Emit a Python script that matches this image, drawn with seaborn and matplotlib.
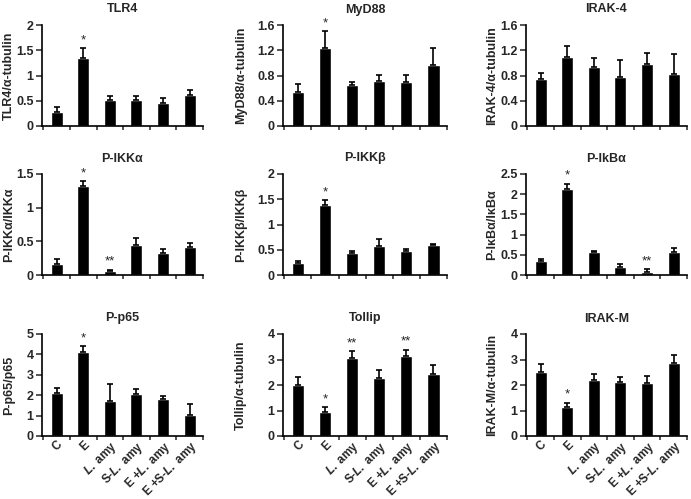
import numpy as np
import pandas as pd
import matplotlib
matplotlib.use("Agg")
import matplotlib.pyplot as plt
import seaborn as sns

# ─────────────────────────────────────────────
# Data
# ─────────────────────────────────────────────
groups = ["C", "E", "L. amy", "S-L. amy", "E +L. amy", "E +S-L. amy"]
group_labels = ["C", "E", r"$\mathit{L.}$ amy", r"S-$\mathit{L.}$ amy",
                r"E +$\mathit{L.}$ amy", r"E +S-$\mathit{L.}$ amy"]

tlr4_mean = [0.28, 1.34, 0.51, 0.52, 0.46, 0.62]
tlr4_err = [0.09, 0.20, 0.08, 0.08, 0.09, 0.09]
tlr4_star = ["", "*", "", "", "", ""]

myd88_mean = [0.54, 1.23, 0.65, 0.72, 0.70, 0.97]
myd88_err = [0.12, 0.27, 0.05, 0.09, 0.11, 0.27]
myd88_star = ["", "*", "", "", "", ""]

irak4_mean = [0.75, 1.09, 0.94, 0.78, 0.98, 0.83]
irak4_err = [0.09, 0.18, 0.14, 0.26, 0.17, 0.31]
irak4_star = ["", "", "", "", "", ""]

pikka_mean = [0.17, 1.32, 0.06, 0.44, 0.32, 0.42]
pikka_err = [0.07, 0.07, 0.02, 0.11, 0.07, 0.05]
pikka_star = ["", "*", "**", "", "", ""]

pikkb_mean = [0.24, 1.38, 0.43, 0.58, 0.48, 0.59]
pikkb_err = [0.03, 0.10, 0.05, 0.13, 0.03, 0.03]
pikkb_star = ["", "*", "", "", "", ""]

pikba_mean = [0.34, 2.14, 0.56, 0.21, 0.08, 0.57]
pikba_err = [0.06, 0.12, 0.04, 0.06, 0.06, 0.09]
pikba_star = ["", "*", "", "", "**", ""]

pp65_mean = [2.13, 4.13, 1.70, 2.05, 1.82, 1.02]
pp65_err = [0.22, 0.26, 0.86, 0.27, 0.16, 0.57]
pp65_star = ["", "*", "", "", "", ""]

tollip_mean = [2.00, 0.96, 3.06, 2.29, 3.13, 2.44]
tollip_err = [0.32, 0.17, 0.27, 0.31, 0.26, 0.33]
tollip_star = ["", "*", "**", "", "**", ""]

irakm_mean = [2.50, 1.15, 2.19, 2.10, 2.08, 2.85]
irakm_err = [0.32, 0.15, 0.26, 0.23, 0.28, 0.32]
irakm_star = ["", "*", "", "", "", ""]

titles = ["TLR4", "MyD88", "IRAK-4",
          "P-IKKα", "P-IKKβ", "P-IkBα",
          "P-p65", "Tollip", "IRAK-M"]
ylabels = ["TLR4/α-tubulin", "MyD88/α-tubulin", "IRAK-4/α-tubulin",
           "P-IKKα/IKKα", "P-IKKβ/IKKβ", "P-IκBα/IκBα",
           "P-p65/p65", "Tollip/α-tubulin", "IRAK-M/α-tubulin"]
means = [tlr4_mean, myd88_mean, irak4_mean, pikka_mean, pikkb_mean,
         pikba_mean, pp65_mean, tollip_mean, irakm_mean]
errs = [tlr4_err, myd88_err, irak4_err, pikka_err, pikkb_err,
        pikba_err, pp65_err, tollip_err, irakm_err]
stars = [tlr4_star, myd88_star, irak4_star, pikka_star, pikkb_star,
         pikba_star, pp65_star, tollip_star, irakm_star]
ymaxes = [2, 1.6, 1.6, 1.5, 2, 2.5, 5, 4, 4]
ysteps = [0.5, 0.4, 0.4, 0.5, 0.5, 0.5, 1, 1, 1]

# ─────────────────────────────────────────────
# Style
# ─────────────────────────────────────────────
sns.set_style("ticks")
plt.rcParams['font.family'] = ['Liberation Sans', 'DejaVu Sans']
plt.rcParams['font.weight'] = 'bold'
plt.rcParams['axes.labelweight'] = 'bold'
plt.rcParams['axes.titleweight'] = 'bold'
plt.rcParams['mathtext.fontset'] = 'custom'
plt.rcParams['mathtext.it'] = 'Liberation Sans:italic:bold'
plt.rcParams['mathtext.rm'] = 'Liberation Sans:bold'

W, H = 691, 499
fig = plt.figure(figsize=(W / 100, H / 100), dpi=100)

# panel boxes in pixels
col_left = [42, 283, 526]
col_width = [161, 164, 161]
row_top = [25, 174, 334]
row_bottom = [126, 275, 436]
ylabel_right = [15, 247, 498]   # right edge of the rotated y label

for i in range(9):
    r, c = divmod(i, 3)
    ax = fig.add_axes([col_left[c] / W, 1 - row_bottom[r] / H,
                       col_width[c] / W, (row_bottom[r] - row_top[r]) / H])
    df = pd.DataFrame({'group': groups, 'value': means[i]})
    sns.barplot(data=df, x='group', y='value', color='black', saturation=1,
                width=0.45, ax=ax, errorbar=None)
    x = np.arange(len(groups))
    ax.errorbar(x, means[i], yerr=[np.zeros(len(groups)), errs[i]],
                fmt='none', ecolor='black', elinewidth=1.2, capsize=2.5,
                capthick=1.2)
    for xi, m, e, s in zip(x, means[i], errs[i], stars[i]):
        if s:
            ax.text(xi, m + e + ymaxes[i] * 0.02, s, ha='center', va='bottom',
                    fontsize=9.5, fontweight='normal')

    ax.set_xlim(-0.55, 5.5)
    ax.set_ylim(0, ymaxes[i])
    ax.set_yticks(np.arange(0, ymaxes[i] + 1e-9, ysteps[i]))
    ax.yaxis.set_major_formatter(matplotlib.ticker.FormatStrFormatter('%g'))
    ax.tick_params(axis='y', labelsize=9, length=4, width=1.1, pad=2)

    # ticks at category boundaries, labels at centres
    ax.set_xticks(np.arange(-0.5, 6, 1))
    ax.set_xticklabels([])
    ax.tick_params(axis='x', which='major', length=3, width=1.1)
    ax.set_xticks(x, minor=True)
    if r == 2:
        ax.set_xticklabels(group_labels, minor=True, rotation=45, ha='right',
                           va='top', rotation_mode='anchor', fontsize=8.5)
    ax.tick_params(axis='x', which='minor', length=0, pad=2)

    ax.set_xlabel('')
    ax.set_ylabel(ylabels[i], fontsize=9)
    ax.yaxis.set_label_coords((ylabel_right[c] - col_left[c]) / col_width[c], 0.5)
    ax.set_title(titles[i], fontsize=9, pad=9)

    sns.despine(ax=ax)
    for side in ['left', 'bottom']:
        ax.spines[side].set_linewidth(1.2)
        ax.spines[side].set_color('black')

plt.savefig('out.png', dpi=100)
